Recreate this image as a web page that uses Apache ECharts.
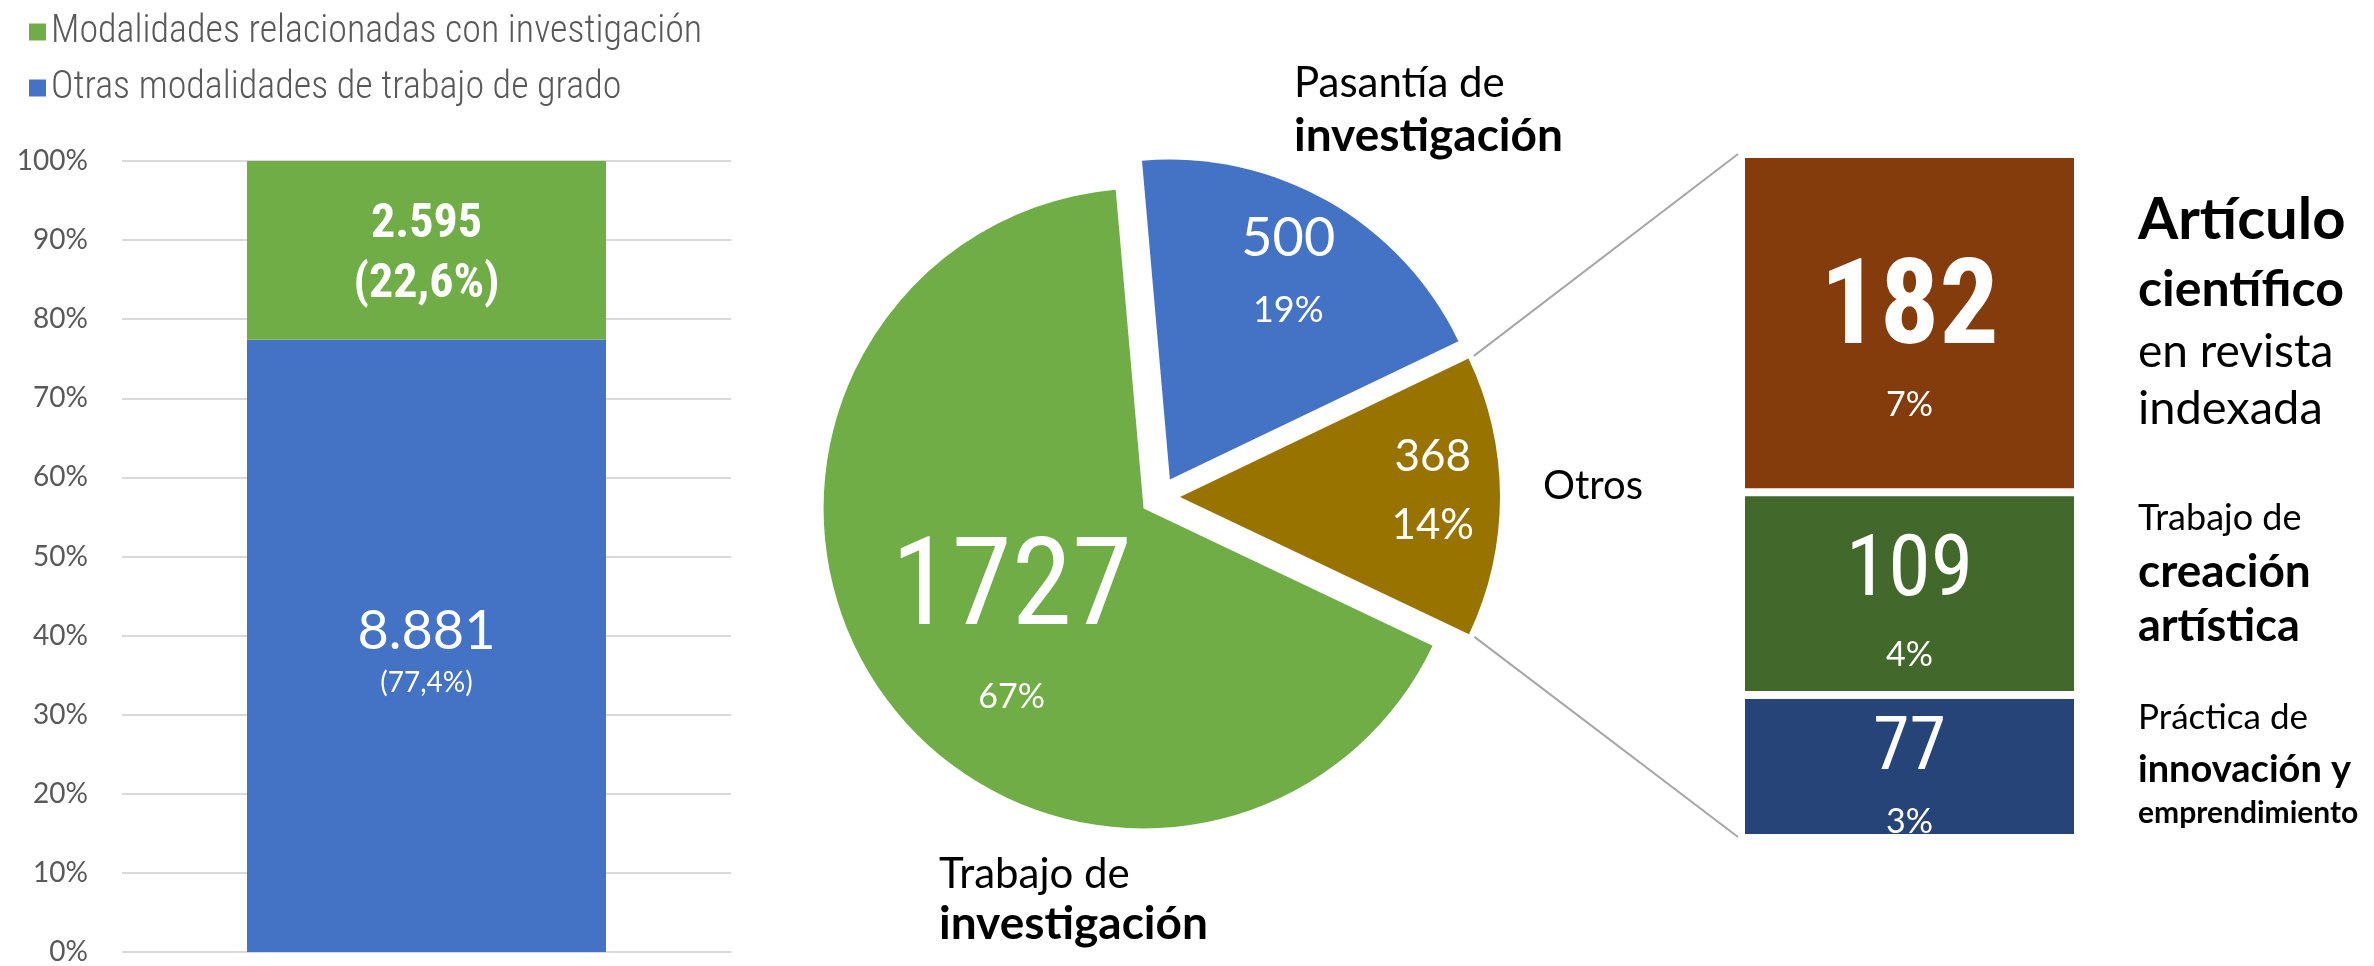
<!DOCTYPE html>
<html>
<head>
<meta charset="utf-8">
<script src="https://cdn.jsdelivr.net/npm/echarts@6/dist/echarts.min.js"></script>
<style>
  html, body { margin: 0; padding: 0; background: #fff; }
  #main { width: 2374px; height: 966px; }
</style>
</head>
<body>
<div id="main"></div>
<script>
// datos
const stackNames = ['Modalidades relacionadas con investigación', 'Otras modalidades de trabajo de grado'];
const stackCounts = [2595, 8881];
const pieNames = ['Pasantía de investigación', 'Otros', 'Trabajo de investigación'];
const pieValues = [500, 368, 1727];
const otherNames = ['Artículo científico en revista indexada', 'Trabajo de creación artística', 'Práctica de innovación y emprendimiento'];
const otherValues = [182, 109, 77];

// estilos
const NARROW = '"Roboto Condensed", "Liberation Sans Narrow", "DejaVu Sans Condensed", Roboto, sans-serif';
const GEO = 'Lato, "Open Sans", sans-serif';
const GREEN = '#70ad47', BLUE = '#4472c4', GOLD = '#997300';
const pieColors = [BLUE, GOLD, GREEN];
const otherColors = ['#843c0c', '#43682b', '#264478'];

// geometría del pastel
const PIE_C = [1160, 497], PIE_R = 320, PIE_START = 95, PIE_OFF = 20;
// caja de "Otros"
const BOX_LEFT = 1743, BOX_RIGHT = 2076, BOX_TOP = 156, BOX_BOTTOM = 836;

const stackTotal = stackCounts.reduce((a, b) => a + b, 0);
const pieTotal = pieValues.reduce((a, b) => a + b, 0);
const otherTotal = otherValues.reduce((a, b) => a + b, 0);

const miles = n => String(n).replace(/\B(?=(\d{3})+(?!\d))/g, '.');
const pctComa = v => (v * 100).toFixed(1).replace('.', ',') + '%';
const pct0 = v => Math.round(v * 100) + '%';

// ángulos de cada porción (sentido horario desde PIE_START)
const sliceAngles = [];
let acc = PIE_START;
pieValues.forEach(v => {
  const span = 360 * v / pieTotal;
  sliceAngles.push({ start: acc, end: acc - span, mid: acc - span / 2 });
  acc -= span;
});
const rad = d => d * Math.PI / 180;
const apexOf = i => [PIE_C[0] + PIE_OFF * Math.cos(rad(sliceAngles[i].mid)),
                     PIE_C[1] - PIE_OFF * Math.sin(rad(sliceAngles[i].mid))];

// etiquetas internas del pastel: [factor radial, giro en grados]
const pieLabelPos = [[0.74, -0.3], [0.79, 1.25], [0.58, 9.9]];
const pieLabelRich = [
  { v: { fontSize: 54, lineHeight: 71 }, p: { fontSize: 36, lineHeight: 71 } },
  { v: { fontSize: 44, lineHeight: 68 }, p: { fontSize: 42, lineHeight: 68 } },
  { v: { fontSize: 122, fontFamily: NARROW, lineHeight: 117 }, p: { fontSize: 34, lineHeight: 91 } }
];

const chart = echarts.init(document.getElementById('main'));

// líneas de conexión desde la porción "Otros"
const iO = 1;
const oApex = apexOf(iO);
const edge = ang => [oApex[0] + (PIE_R + 6) * Math.cos(rad(ang)), oApex[1] - (PIE_R + 6) * Math.sin(rad(ang))];
const pUp = edge(sliceAngles[iO].start), pDown = edge(sliceAngles[iO].end);

function txt(x, y, s, size, weight, family) {
  return {
    type: 'text', x: x, y: y,
    style: { text: s, fontSize: size, fontWeight: weight || 'normal', fontFamily: family || GEO, fill: '#000',
             align: 'left', verticalAlign: 'middle' }
  };
}

const pieLabels = pieValues.map((v, i) => {
  const a = apexOf(i);
  const ang = sliceAngles[i].mid + pieLabelPos[i][1];
  const d = PIE_R * pieLabelPos[i][0];
  const rich = {};
  Object.keys(pieLabelRich[i]).forEach(k => {
    rich[k] = Object.assign({ fill: '#fff', fontFamily: GEO, align: 'center' }, pieLabelRich[i][k]);
  });
  return {
    type: 'text', x: a[0] + d * Math.cos(rad(ang)), y: a[1] - d * Math.sin(rad(ang)), z: 10,
    style: { text: '{v|' + v + '}\n{p|' + pct0(v / pieTotal) + '}', rich: rich, align: 'center', verticalAlign: 'middle' }
  };
});

const option = {
  animation: false,
  legend: {
    orient: 'vertical', left: 24, top: 8, itemWidth: 17, itemHeight: 17, itemGap: 18,
    icon: 'rect', data: [stackNames[0], stackNames[1]],
    textStyle: { fontSize: 38, color: '#595959', fontFamily: NARROW, fontWeight: 300 }
  },
  grid: [
    { left: 122, top: 161, width: 609, height: 795 },
    { left: BOX_LEFT - 2, top: BOX_TOP - 2, width: BOX_RIGHT - BOX_LEFT + 4, height: BOX_BOTTOM - BOX_TOP + 4 }
  ],
  xAxis: [
    { type: 'category', gridIndex: 0, data: [''], axisLine: { show: false }, axisTick: { show: false }, axisLabel: { show: false } },
    { type: 'category', gridIndex: 1, data: [''], show: false }
  ],
  yAxis: [
    {
      type: 'value', gridIndex: 0, min: 0, max: 100, interval: 10,
      axisLabel: { formatter: '{value}%', fontSize: 28, color: '#595959', fontFamily: GEO, margin: 34 },
      splitLine: { lineStyle: { color: '#d9d9d9', width: 2 } }
    },
    { type: 'value', gridIndex: 1, min: 0, max: otherTotal, show: false }
  ],
  series: [
    {
      name: stackNames[1], type: 'bar', stack: 'total', xAxisIndex: 0, yAxisIndex: 0, barWidth: 359,
      itemStyle: { color: BLUE },
      data: [stackCounts[1] / stackTotal * 100],
      label: {
        show: true, position: 'inside', offset: [0, 7], color: '#fff', fontFamily: GEO,
        formatter: () => '{v|' + miles(stackCounts[1]) + '}\n{p|(' + pctComa(stackCounts[1] / stackTotal) + ')}',
        rich: { v: { fontSize: 54, lineHeight: 60, color: '#fff', fontFamily: GEO },
                p: { fontSize: 28, lineHeight: 42, color: '#fff', fontFamily: GEO } }
      }
    },
    {
      name: stackNames[0], type: 'bar', stack: 'total', xAxisIndex: 0, yAxisIndex: 0, barWidth: 359,
      itemStyle: { color: GREEN },
      data: [stackCounts[0] / stackTotal * 100],
      label: {
        show: true, position: 'inside', offset: [0, 4], color: '#fff',
        formatter: () => '{v|' + miles(stackCounts[0]) + '}\n{p|(' + pctComa(stackCounts[0] / stackTotal) + ')}',
        rich: { v: { fontSize: 48, fontWeight: 'bold', lineHeight: 62, color: '#fff', fontFamily: NARROW },
                p: { fontSize: 48, fontWeight: 'bold', lineHeight: 58, color: '#fff', fontFamily: NARROW } }
      }
    },
    {
      type: 'pie', center: PIE_C, radius: PIE_R, startAngle: PIE_START, clockwise: true,
      selectedMode: 'multiple', selectedOffset: PIE_OFF, emphasis: { scale: false },
      itemStyle: { borderWidth: 0 },
      label: { show: false },
      labelLine: { show: false },
      data: pieValues.map((v, i) => ({
        name: pieNames[i], value: v, selected: true,
        itemStyle: { color: pieColors[i] }
      }))
    }
  ].concat([2, 1, 0].map(i => {
    // [desplazamiento vertical, alto de línea del número, alto de línea del %]
    const lay = [[12, 140, 43], [6, 110, 52], [6, 100, 44]][i];
    const vSize = [118, 86, 74][i];
    return {
      name: otherNames[i], type: 'bar', stack: 'otros', xAxisIndex: 1, yAxisIndex: 1, barWidth: '100%',
      itemStyle: { color: otherColors[i], borderColor: '#fff', borderWidth: 4 },
      data: [otherValues[i]],
      label: {
        show: true, position: 'inside', offset: [0, lay[0]],
        formatter: () => '{v|' + otherValues[i] + '}\n{p|' + pct0(otherValues[i] / pieTotal) + '}',
        rich: {
          v: { fontSize: vSize, fontWeight: i === 0 ? 'bold' : 'normal', lineHeight: lay[1], color: '#fff', fontFamily: NARROW },
          p: { fontSize: 34, lineHeight: lay[2], color: '#fff', fontFamily: GEO }
        }
      }
    };
  })),
  graphic: [
    { type: 'line', shape: { x1: pUp[0], y1: pUp[1], x2: BOX_LEFT - 5, y2: BOX_TOP - 2 }, style: { stroke: '#a6a6a6', lineWidth: 2 } },
    { type: 'line', shape: { x1: pDown[0], y1: pDown[1], x2: BOX_LEFT - 5, y2: BOX_BOTTOM + 1 }, style: { stroke: '#a6a6a6', lineWidth: 2 } },
    txt(1294, 83, 'Pasantía de', 42),
    txt(1294, 136, 'investigación', 46, 'bold'),
    txt(1543, 486, 'Otros', 40),
    txt(939, 874, 'Trabajo de', 42),
    txt(939, 924, 'investigación', 46, 'bold'),
    txt(2138, 220, 'Artículo', 58, 'bold'),
    txt(2138, 290, 'científico', 50, 'bold'),
    txt(2138, 352, 'en revista', 46),
    txt(2138, 409, 'indexada', 47),
    txt(2138, 518, 'Trabajo de', 36),
    txt(2138, 572, 'creación', 46, 'bold'),
    txt(2138, 626, 'artística', 45, 'bold'),
    txt(2138, 718, 'Práctica de', 35),
    txt(2138, 770, 'innovación y', 38, 'bold'),
    txt(2138, 813, 'emprendimiento', 30, 'bold')
  ].concat(pieLabels)
};

chart.setOption(option);
</script>
</body>
</html>
